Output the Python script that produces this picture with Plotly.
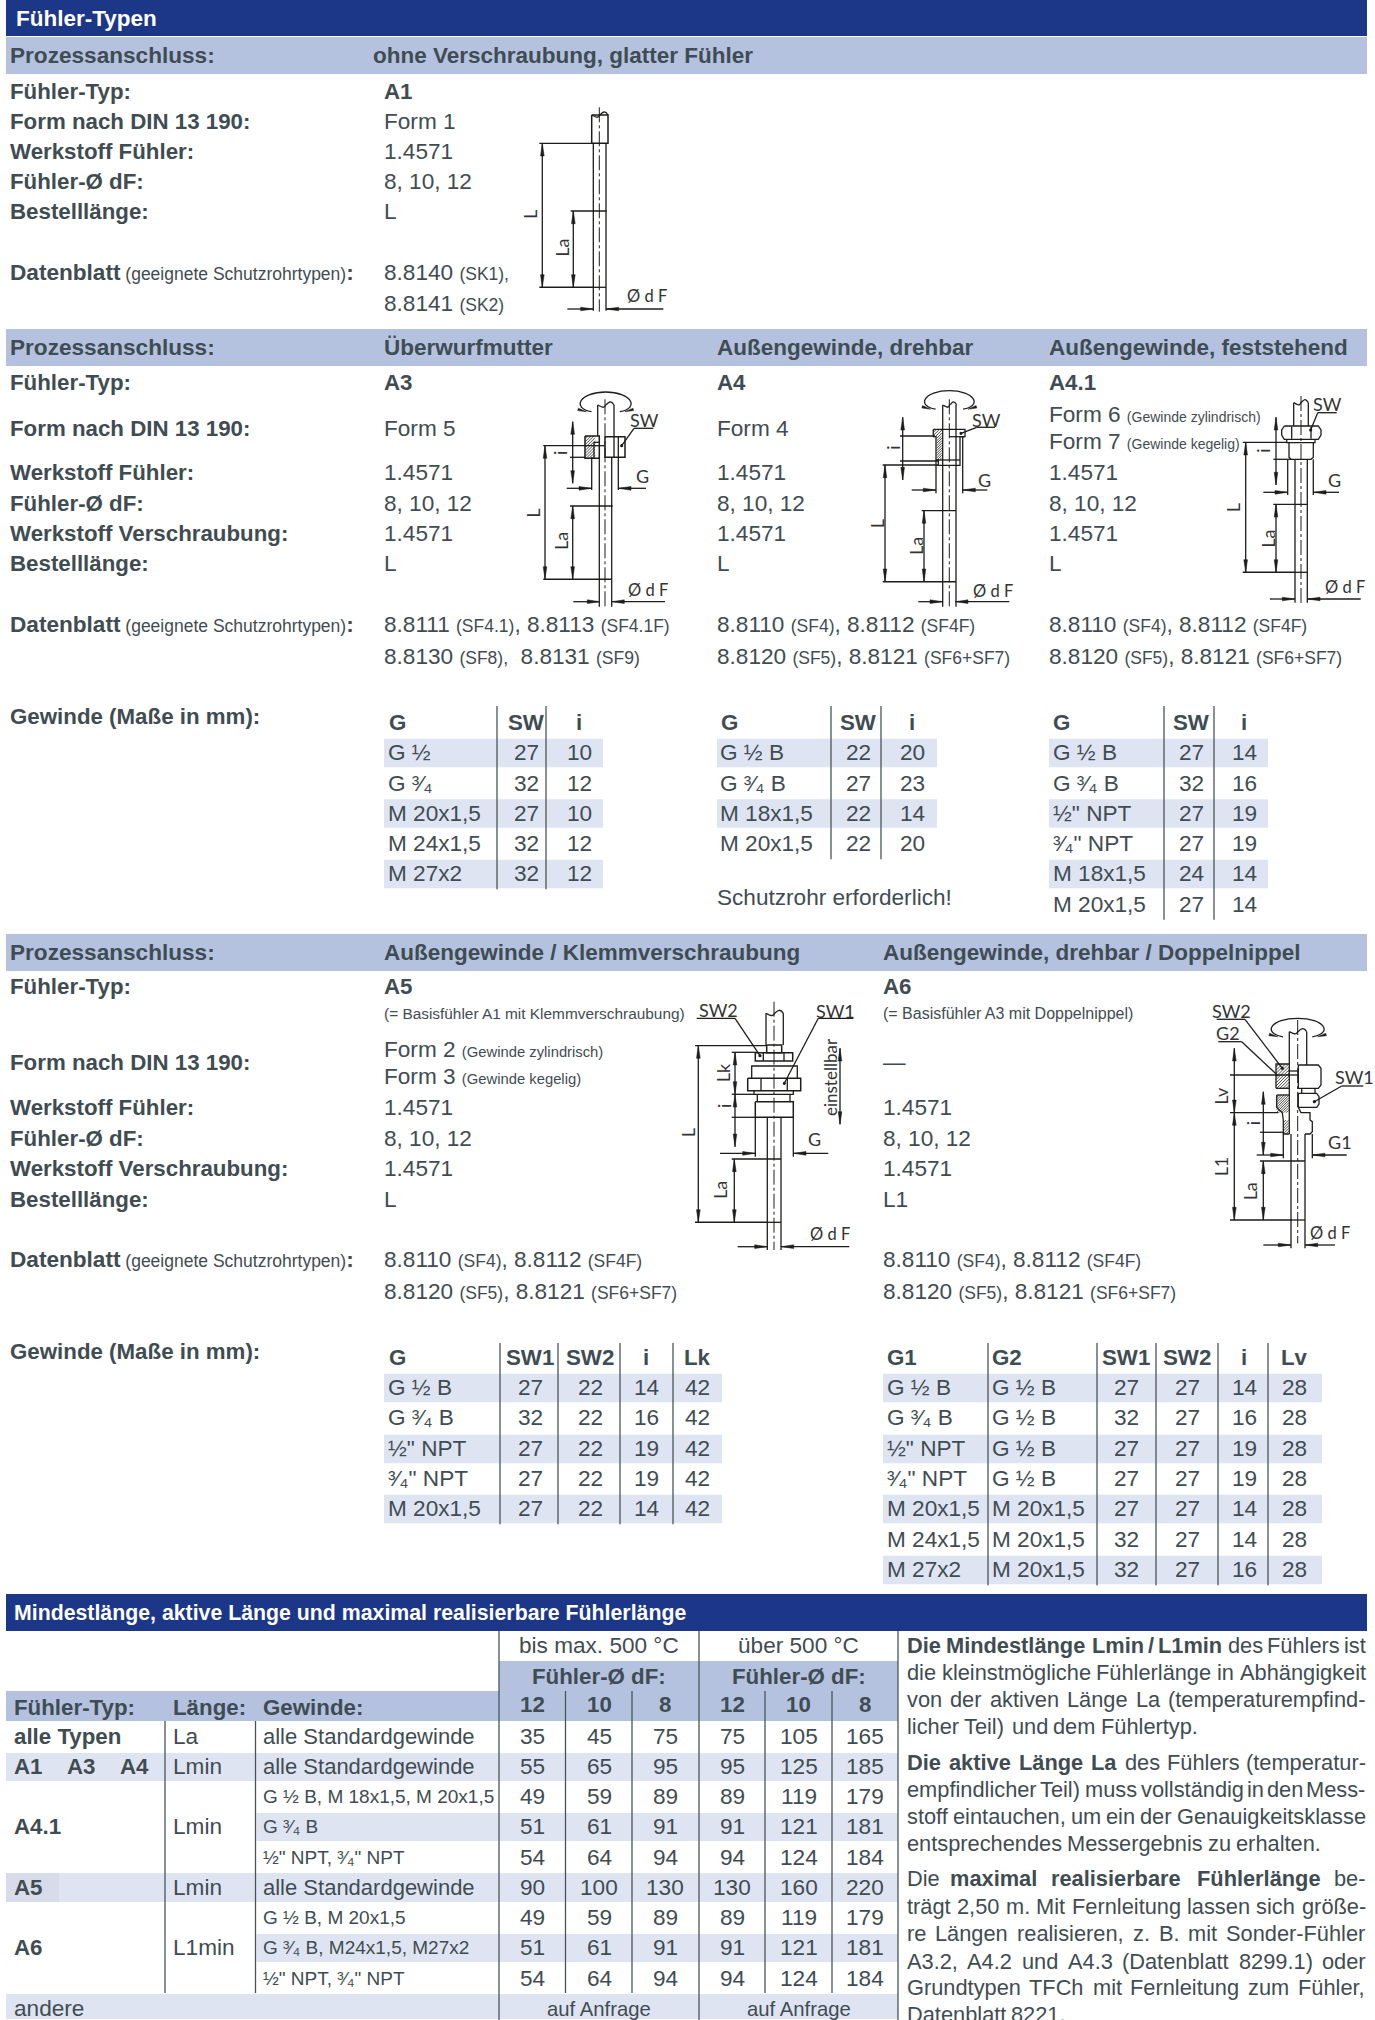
import plotly.graph_objects as go

# ---------- text content ----------
TITLE_TOP = "Fühler-Typen"
TITLE_BOTTOM = "Mindestlänge, aktive Länge und maximal realisierbare Fühlerlänge"
PROC = "Prozessanschluss:"
LABELS_1 = ["Fühler-Typ:", "Form nach DIN 13 190:", "Werkstoff Fühler:", "Fühler-Ø dF:", "Bestelllänge:"]
VALUES_A1 = ["A1", "Form 1", "1.4571", "8, 10, 12", "L"]
LABELS_2 = ["Fühler-Typ:", "Form nach DIN 13 190:", "Werkstoff Fühler:", "Fühler-Ø dF:", "Werkstoff Verschraubung:", "Bestelllänge:"]
VALUES_A3 = ["A3", "Form 5", "1.4571", "8, 10, 12", "1.4571", "L"]
VALUES_A4 = ["A4", "Form 4", "1.4571", "8, 10, 12", "1.4571", "L"]
VALUES_A41 = ["A4.1", None, "1.4571", "8, 10, 12", "1.4571", "L"]
VALUES_A5 = ["A5", None, "1.4571", "8, 10, 12", "1.4571", "L"]
VALUES_A6 = ["A6", "—", "1.4571", "8, 10, 12", "1.4571", "L1"]
DB = "Datenblatt"
DB_NOTE = " (geeignete Schutzrohrtypen)"
GEWINDE = "Gewinde (Maße in mm):"

H = ["G", "SW", "i"]
A3_G = ["G ½", "G ³⁄₄", "M 20x1,5", "M 24x1,5", "M 27x2"]
A3_SW = [27, 32, 27, 32, 32]
A3_I = [10, 12, 10, 12, 12]
A4_G = ["G ½ B", "G ³⁄₄ B", "M 18x1,5", "M 20x1,5"]
A4_SW = [22, 27, 22, 22]
A4_I = [20, 23, 14, 20]
A41_G = ["G ½ B", "G ³⁄₄ B", "½\" NPT", "³⁄₄\" NPT", "M 18x1,5", "M 20x1,5"]
A41_SW = [27, 32, 27, 27, 24, 27]
A41_I = [14, 16, 19, 19, 14, 14]
H5 = ["G", "SW1", "SW2", "i", "Lk"]
A5_G = ["G ½ B", "G ³⁄₄ B", "½\" NPT", "³⁄₄\" NPT", "M 20x1,5"]
A5_SW1 = [27, 32, 27, 27, 27]
A5_SW2 = [22, 22, 22, 22, 22]
A5_I = [14, 16, 19, 19, 14]
A5_LK = [42, 42, 42, 42, 42]
H6 = ["G1", "G2", "SW1", "SW2", "i", "Lv"]
A6_G1 = ["G ½ B", "G ³⁄₄ B", "½\" NPT", "³⁄₄\" NPT", "M 20x1,5", "M 24x1,5", "M 27x2"]
A6_G2 = ["G ½ B", "G ½ B", "G ½ B", "G ½ B", "M 20x1,5", "M 20x1,5", "M 20x1,5"]
A6_SW1 = [27, 32, 27, 27, 27, 32, 32]
A6_SW2 = [27, 27, 27, 27, 27, 27, 27]
A6_I = [14, 16, 19, 19, 14, 14, 16]
A6_LV = [28, 28, 28, 28, 28, 28, 28]

B_TYPE = ["alle Typen", None, None, "A4.1", None, "A5", None, "A6", None]
B_LEN = ["La", "Lmin", None, "Lmin", None, "Lmin", None, "L1min", None]
B_GEW = ["alle Standardgewinde", "alle Standardgewinde", "G ½ B, M 18x1,5, M 20x1,5", "G ³⁄₄ B",
         "½\" NPT, ³⁄₄\" NPT", "alle Standardgewinde", "G ½ B, M 20x1,5", "G ³⁄₄ B, M24x1,5, M27x2", "½\" NPT, ³⁄₄\" NPT"]
BIS_12 = [35, 55, 49, 51, 54, 90, 49, 51, 54]
BIS_10 = [45, 65, 59, 61, 64, 100, 59, 61, 64]
BIS_8 = [75, 95, 89, 91, 94, 130, 89, 91, 94]
UEB_12 = [75, 95, 89, 91, 94, 130, 89, 91, 94]
UEB_10 = [105, 125, 119, 121, 124, 160, 119, 121, 124]
UEB_8 = [165, 185, 179, 181, 184, 220, 179, 181, 184]
DIAMS = [12, 10, 8, 12, 10, 8]

# '*' marks a bold word, final flag = justified line
PARA = [
    ("*Die *Mindestlänge *Lmin */ *L1min des Fühlers ist", True),
    ("die kleinstmögliche Fühlerlänge in Abhängigkeit", True),
    ("von der aktiven Länge La (temperaturempfind-", True),
    ("licher Teil) und dem Fühlertyp.", False),
    ("*Die *aktive *Länge *La des Fühlers (temperatur-", True),
    ("empfindlicher Teil) muss vollständig in den Mess-", True),
    ("stoff eintauchen, um ein der Genauigkeitsklasse", True),
    ("entsprechendes Messergebnis zu erhalten.", False),
    ("Die *maximal *realisierbare *Fühlerlänge be-", True),
    ("trägt 2,50 m. Mit Fernleitung lassen sich größe-", True),
    ("re Längen realisieren, z. B. mit Sonder-Fühler", True),
    ("A3.2, A4.2 und A4.3 (Datenblatt 8299.1) oder", True),
    ("Grundtypen TFCh mit Fernleitung zum Fühler,", True),
    ("Datenblatt 8221.", False),
]

# ---------- style ----------
FONT = "Liberation Sans, Arial, sans-serif"
NARROW = "Lato, Liberation Sans, sans-serif"
TXT = "#3f4c52"
NAVY = "#1c3688"
BAND = "#b4c2e0"
LIGHT = "#dfe4f2"
RULE = "#4a5558"
INK = "#1d1d1b"
W, HT = 1375, 2020
XL, XR = 6, 1367

shapes, annots = [], []


def rect(x0, y0, x1, y1, fill):
    shapes.append(dict(type="rect", xref="x", yref="y", x0=x0, y0=y0, x1=x1, y1=y1,
                       fillcolor=fill, line=dict(width=0), layer="below"))


def vline(x, y0, y1, color=RULE, w=1.3):
    shapes.append(dict(type="line", xref="x", yref="y", x0=x, x1=x, y0=y0, y1=y1,
                       line=dict(color=color, width=w)))


def T(x, y, s, size=None, color=TXT, bold=False, anchor="left", angle=0, font=FONT):
    if size is None:
        size = 22.3 if bold else 22.6
    txt = f"<b>{s}</b>" if bold else str(s)
    dx = 1.2 if anchor == "left" else 0
    annots.append(dict(x=x - dx, y=y - 0.3, xref="x", yref="y", text=txt, showarrow=False, xanchor=anchor,
                       yanchor="middle", textangle=angle, borderpad=0,
                       font=dict(family=font, size=size, color=color)))


def sm(s, size=17.5):
    return f'<span style="font-size:{size}px">{s}</span>'


class D:
    """Line drawing in zoom coordinates (three units per page pixel)."""

    def __init__(self, x0, y0):
        self.x0, self.y0 = x0, y0

    def p(self, x, y):
        return self.x0 + x / 3, self.y0 + y / 3

    def path(self, d, w=1.3, dash=None, fill=None, color=INK):
        line = dict(color=color, width=w)
        if dash:
            line["dash"] = dash
        s = dict(type="path", xref="x", yref="y", path=d, line=line)
        if fill:
            s["fillcolor"] = fill
        shapes.append(s)

    def line(self, *pts, w=1.3, dash=None):
        d = ""
        for i, (x, y) in enumerate(pts):
            px, py = self.p(x, y)
            d += f"{'M' if i == 0 else 'L'} {px:.1f} {py:.1f} "
        self.path(d, w, dash)

    def center(self, x, y0, y1):
        self.line((x, y0), (x, y1), w=1, dash="15px,3px,3px,3px")

    def box(self, x0, y0, x1, y1, w=1.5):
        self.line((x0, y0), (x1, y0), (x1, y1), (x0, y1), (x0, y0), w=w)

    def head(self, x, y, dx, dy, ln=38, hw=5.5):
        ax, ay = self.p(x, y)
        bx, by = self.p(x + dx * ln, y + dy * ln)
        ox, oy = -dy * hw / 3, dx * hw / 3
        self.path(f"M {ax:.1f} {ay:.1f} L {bx + ox:.1f} {by + oy:.1f} L {bx - ox:.1f} {by - oy:.1f} Z",
                  w=0.5, fill=INK)

    def vdim(self, x, y0, y1):
        self.line((x, y0), (x, y1))
        self.head(x, y0, 0, 1)
        self.head(x, y1, 0, -1)

    def hout(self, xa, xb, y, xl, xr):
        self.line((xl, y), (xa, y))
        self.line((xb, y), (xr, y))
        self.head(xa, y, -1, 0)
        self.head(xb, y, 1, 0)

    def dot(self, x, y):
        px, py = self.p(x, y)
        shapes.append(dict(type="circle", xref="x", yref="y", x0=px - 1.6, x1=px + 1.6, y0=py - 1.6,
                           y1=py + 1.6, fillcolor=INK, line=dict(width=0)))

    def wavy(self, xl, xr, y):
        a, b = self.p(xl, y), self.p(xr, y)
        mx = (a[0] + b[0]) / 2
        self.path(f"M {a[0]:.1f} {a[1]:.1f} C {a[0] + 6:.1f} {a[1] + 3:.1f}, {mx - 2:.1f} {a[1] + 3:.1f}, {mx:.1f} {a[1]:.1f} "
                  f"C {mx + 3:.1f} {a[1] - 3:.1f}, {b[0] - 3:.1f} {a[1] - 5:.1f}, {b[0]:.1f} {b[1]:.1f}", w=1.3)

    def swirl(self, cx, cy, rx, ry):
        c = self.p(cx, cy)
        r, q = rx / 3, ry / 3
        self.path(f"M {c[0] - r * .55:.1f} {c[1] + q * .85:.1f} C {c[0] - r * 1.35:.1f} {c[1] + q * .5:.1f}, "
                  f"{c[0] - r:.1f} {c[1] - q:.1f}, {c[0]:.1f} {c[1] - q:.1f} "
                  f"C {c[0] + r:.1f} {c[1] - q:.1f}, {c[0] + r * 1.35:.1f} {c[1] + q * .5:.1f}, "
                  f"{c[0] + r * .55:.1f} {c[1] + q * .85:.1f}", w=1.3)
        self.head(cx - rx * .75, cy + ry * .85, -0.9, -0.25, ln=28, hw=4)
        self.head(cx + rx * .75, cy + ry * .85, 0.9, -0.25, ln=28, hw=4)

    def hatch(self, x0, y0, x1, y1, n=6):
        h = y1 - y0
        step = (x1 - x0 + h) / n
        for i in range(1, n):
            c = x0 + i * step
            ax2, ay2 = c - h, y1
            bx2, by2 = c, y0
            if ax2 < x0:
                ay2 = y1 - (x0 - ax2)
                ax2 = x0
            if bx2 > x1:
                by2 = y0 + (bx2 - x1)
                bx2 = x1
            self.line((ax2, ay2), (bx2, by2), w=0.8)

    def t(self, x, y, s, size=18, angle=0, anchor="center"):
        px, py = self.p(x, y)
        T(px, py, s, size=size, color="#333", angle=angle, anchor=anchor, font=NARROW)

    def df(self, x, y):
        self.t(x, y, "Ø d F", size=16.5)


# ---------- Helvetica metrics for the justified paragraph ----------
REG = {' ': .278, ',': .278, '.': .278, '-': .333, '/': .278, '(': .333, ')': .333, ':': .278, 'f': .278, 't': .278,
       'i': .222, 'j': .222, 'l': .222, 'r': .333, 'c': .5, 'k': .5, 's': .5, 'v': .5, 'x': .5, 'y': .5, 'z': .5,
       'm': .833, 'w': .722, 'I': .278, 'J': .5, 'F': .611, 'T': .611, 'Z': .611, 'L': .556, 'A': .667, 'B': .667,
       'E': .667, 'K': .667, 'P': .667, 'S': .667, 'V': .667, 'X': .667, 'Y': .667, 'C': .722, 'D': .722, 'H': .722,
       'N': .722, 'R': .722, 'U': .722, 'G': .778, 'O': .778, 'Q': .778, 'M': .833, 'W': .944, 'ß': .611, 'ü': .556,
       'ö': .556, 'ä': .556}
BLD = dict(REG, **{'i': .278, 'j': .278, 'l': .278, 'r': .389, 'c': .556, 'k': .556, 's': .556, 'v': .556, 'x': .556,
                   'y': .556, 'z': .5, 't': .333, 'f': .333, 'm': .889, 'w': .778, 'F': .611, 'L': .611, '/': .278,
                   'ü': .611, 'ä': .556})


def wid(word, bold, size):
    table = BLD if bold else REG
    dflt = .611 if bold else .556
    return sum(table.get(c, dflt) for c in word) * size


def para(x0, x1, ys, lines, size=22):
    for (line, just), y in zip(lines, ys):
        words = line.split(" ")
        items = [(w.lstrip("*"), w.startswith("*")) for w in words]
        ws = [wid(w, b, size) for w, b in items]
        gap = (x1 - x0 - sum(ws)) / (len(ws) - 1) if just and len(ws) > 1 else .24 * size
        x = x0
        for (w, b), wd in zip(items, ws):
            T(x, y, w, size=size, bold=b)
            x += wd + gap


# ---------- bands ----------
rect(XL, 0, XR, 36, NAVY)
T(16, 19, TITLE_TOP, size=22.5, color="white", bold=True)
for y0, y1, yc in [(37, 74, 56), (329, 366, 348), (934, 971, 953)]:
    rect(XL, y0, XR, y1, BAND)
    T(10, yc, PROC, bold=True, size=22.6)

T(373, 56, "ohne Verschraubung, glatter Fühler", bold=True, size=22.5)
T(384, 348, "Überwurfmutter", bold=True, size=22.5)
T(717, 348, "Außengewinde, drehbar", bold=True, size=22.5)
T(1049, 348, "Außengewinde, feststehend", bold=True, size=22.5)
T(384, 953, "Außengewinde / Klemmverschraubung", bold=True, size=22.5)
T(883, 953, "Außengewinde, drehbar / Doppelnippel", bold=True, size=22.5)


def col(x, ys, vals, first_bold=True):
    for i, (y, v) in enumerate(zip(ys, vals)):
        if v is not None:
            T(x, y, v, bold=(i == 0 and first_bold))


def labels(ys, vals):
    for y, v in zip(ys, vals):
        T(10, y, v, bold=True)


def db_label(y):
    T(10, y, f"<b>{DB}</b>{sm(DB_NOTE)}<b>:</b>")


# section 1
Y1 = [92, 122, 152, 182, 212]
labels(Y1, LABELS_1)
col(384, Y1, VALUES_A1)
db_label(273)
T(384, 273, "8.8140 " + sm("(SK1),"))
T(384, 304, "8.8141 " + sm("(SK2)"))

# section 2
Y2 = [383, 429, 473, 504, 534, 564]
labels(Y2, LABELS_2)
col(384, Y2, VALUES_A3)
col(717, Y2, VALUES_A4)
col(1049, Y2, VALUES_A41)
T(1049, 415, "Form 6 " + sm("(Gewinde zylindrisch)", 14))
T(1049, 442, "Form 7 " + sm("(Gewinde kegelig)", 14))
db_label(625)
T(384, 625, "8.8111 " + sm("(SF4.1)") + ", 8.8113 " + sm("(SF4.1F)"))
T(384, 657, "8.8130 " + sm("(SF8),") + "\u00a0\u00a08.8131 " + sm("(SF9)"))
for x in (717, 1049):
    T(x, 625, "8.8110 " + sm("(SF4)") + ", 8.8112 " + sm("(SF4F)"))
    T(x, 657, "8.8120 " + sm("(SF5)") + ", 8.8121 " + sm("(SF6+SF7)"))
T(10, 717, GEWINDE, bold=True)


def table(x0, x1, seps, header, hdr_xs, columns, col_xs, left_cols, y_head, y_rows, y_top):
    rh = 30.3
    for i, y in enumerate(y_rows):
        if i % 2 == 0:
            rect(x0, y - rh / 2 + 1, x1, y + rh / 2 - 1, LIGHT)
    for s in seps:
        vline(s, y_top, y_rows[-1] + rh / 2)
    for h, x, c in zip(header, hdr_xs, range(len(header))):
        T(x, y_head, h, bold=True, anchor="left" if c in left_cols else "center")
    for c, (vals, x) in enumerate(zip(columns, col_xs)):
        for v, y in zip(vals, y_rows):
            T(x, y, v, anchor="left" if c in left_cols else "center")


Y_T2 = [753, 783.5, 813.5, 844, 874, 904.5]
table(384, 603, [497, 546], H, [389, 526, 579], [A3_G, A3_SW, A3_I], [388, 526, 579], {0}, 723, Y_T2[:5], 706)
table(717, 937, [831, 881], H, [721, 858, 912], [A4_G, A4_SW, A4_I], [720, 858, 912], {0}, 723, Y_T2[:4], 706)
table(1049, 1268, [1164, 1214], H, [1053, 1191, 1244], [A41_G, A41_SW, A41_I], [1053, 1191, 1244], {0}, 723, Y_T2, 706)
T(717, 898, "Schutzrohr erforderlich!")

# section 3
Y3 = [987, 1063, 1108, 1139, 1169, 1200]
labels(Y3, LABELS_2)
col(384, Y3, VALUES_A5)
col(883, Y3, VALUES_A6)
T(384, 1014, "(= Basisfühler A1 mit Klemmverschraubung)", size=15.4)
T(883, 1014, "(= Basisfühler A3 mit Doppelnippel)", size=16)
T(384, 1050, "Form 2 " + sm("(Gewinde zylindrisch)", 14.8))
T(384, 1077, "Form 3 " + sm("(Gewinde kegelig)", 14.8))
db_label(1260)
for x in (384, 883):
    T(x, 1260, "8.8110 " + sm("(SF4)") + ", 8.8112 " + sm("(SF4F)"))
    T(x, 1292, "8.8120 " + sm("(SF5)") + ", 8.8121 " + sm("(SF6+SF7)"))
T(10, 1352, GEWINDE, bold=True)
Y_T3 = [1388, 1418, 1449, 1479, 1509, 1540, 1570]
table(384, 722, [500, 558, 620, 673], H5, [389, 530, 590, 646, 697],
      [A5_G, A5_SW1, A5_SW2, A5_I, A5_LK], [388, 530, 590, 646, 697], {0}, 1358, Y_T3[:5], 1343)
table(883, 1322, [988, 1097, 1156, 1218, 1268], H6, [887, 992, 1126, 1187, 1244, 1294],
      [A6_G1, A6_G2, A6_SW1, A6_SW2, A6_I, A6_LV], [887, 992, 1126, 1187, 1244, 1294], {0, 1}, 1358, Y_T3, 1343)

# bottom table
rect(XL, 1594, XR, 1631, NAVY)
T(14, 1613, TITLE_BOTTOM, size=21.3, color="white", bold=True)
rect(499, 1661, 898, 1721, BAND)
rect(XL, 1691, 499, 1721, BAND)
Y_B = [1737, 1767, 1797, 1827, 1858, 1888, 1918, 1948, 1979]
YB_ED = [1721, 1752, 1782, 1812, 1842, 1872, 1903, 1933, 1963, 1993]
for i, left in ((1, XL), (3, 256.5), (5, XL), (7, 256.5), (9, XL)):
    y1 = YB_ED[i + 1] if i < 9 else 2020
    rect(left, YB_ED[i] + 1, 898, y1 - 1, LIGHT)
rect(XL, 1873, 59, 1902, "#d8dbe9")
for x in (165, 255.5):
    vline(x, 1721, 1993)
for x in (499, 699, 898):
    vline(x, 1631, 2020)
for x in (565.5, 632, 765, 832):
    vline(x, 1691, 1993)
T(599, 1646, "bis max. 500 °C", anchor="center")
T(798.5, 1646, "über 500 °C", anchor="center")
T(599, 1677, "Fühler-Ø dF:", bold=True, anchor="center")
T(798.5, 1677, "Fühler-Ø dF:", bold=True, anchor="center")
T(14, 1708, "Fühler-Typ:", bold=True)
T(173, 1708, "Länge:", bold=True)
T(263, 1708, "Gewinde:", bold=True)
COLX = [532, 599, 665, 732, 798.5, 865]
for x, d in zip(COLX, DIAMS):
    T(x, 1705, d, bold=True, anchor="center")
for x, vals in zip(COLX, [BIS_12, BIS_10, BIS_8, UEB_12, UEB_10, UEB_8]):
    for y, v in zip(Y_B, vals):
        T(x, y, v, anchor="center")
TYPE_Y = {0: 1737, 3: 1827, 5: 1888, 7: 1948}
for i, y in TYPE_Y.items():
    T(14, y, B_TYPE[i], bold=True)
for x, s in zip((14, 67, 120), ("A1", "A3", "A4")):
    T(x, 1767, s, bold=True)
for i, y in zip((0, 1, 3, 5, 7), (1737, 1767, 1827, 1888, 1948)):
    T(173, y, B_LEN[i])
for y, g, c in zip(Y_B, B_GEW, (22, 22, 19, 19, 19, 22, 19, 19, 19)):
    T(263, y, g, size=c)
T(14, 2009, "andere")
T(599, 2009, "auf Anfrage", anchor="center", size=20.3)
T(798.5, 2009, "auf Anfrage", anchor="center", size=20.3)

# paragraph
PY = [1646, 1673, 1700, 1727, 1763, 1790, 1817, 1844, 1879, 1907, 1934, 1962, 1988, 2015]
para(907, 1366, PY, PARA, size=21.8)

# ---------- drawings ----------
d = D(510, 100)  # A1
d.center(268, 22, 635)
d.wavy(245, 294, 45)
d.box(245, 45, 294, 130)
d.line((250, 130), (250, 632))
d.line((288, 130), (288, 632))
d.line((250, 562), (288, 562))
d.line((88, 130), (250, 130))
d.line((88, 562), (250, 562), w=1.5)
d.vdim(97, 130, 562)
d.line((182, 333), (290, 333))
d.vdim(190, 333, 562)
d.hout(250, 288, 627, 172, 460)
d.t(58, 345, "L", angle=-90)
d.t(155, 445, "La", angle=-90)
d.df(410, 590)

d = D(510, 380)  # A3
d.center(285, 58, 680)
d.swirl(287, 68, 77, 32)
d.wavy(263, 312, 75)
d.line((263, 75), (263, 168))
d.line((312, 75), (312, 170))
d.line((268, 232), (268, 680))
d.line((305, 232), (305, 680))
d.box(225, 168, 268, 235)
d.hatch(225, 168, 255, 235, 11)
d.line((252, 187), (268, 187))
d.line((252, 197), (285, 197))
d.line((252, 187), (252, 235))
d.box(285, 170, 345, 232)
d.line((312, 170), (312, 232))
d.line((325, 170), (325, 232))
d.vdim(188, 125, 310)
d.line((100, 197), (252, 197))
d.line((180, 232), (225, 232))
d.vdim(105, 197, 598)
d.line((100, 598), (305, 598), w=1.5)
d.vdim(188, 378, 598)
d.line((180, 378), (308, 378))
d.line((245, 232), (245, 330))
d.line((325, 232), (325, 330))
d.hout(245, 325, 325, 170, 408)
d.t(397, 288, "G")
d.t(402, 122, "SW")
d.line((372, 145), (430, 145))
d.line((372, 145), (335, 197))
d.dot(335, 197)
d.t(68, 400, "L", angle=-90)
d.t(155, 485, "La", angle=-90)
d.t(150, 220, "i", angle=-90)
d.df(415, 632)
d.hout(270, 305, 665, 190, 465)

d = D(850, 380)  # A4
d.center(298, 58, 680)
d.swirl(298, 62, 75, 30)
d.wavy(278, 320, 75)
d.line((278, 75), (278, 680))
d.line((318, 75), (318, 680))
d.line((250, 148), (345, 148), (345, 170), (330, 170), (330, 240), (330, 256), (265, 256), (265, 240), (258, 240), (258, 170), (250, 170), (250, 148))
d.hatch(250, 148, 276, 168, 5)
d.hatch(260, 168, 276, 240, 12)
d.line((258, 240), (330, 240))
d.line((298, 170), (345, 170))
d.vdim(158, 112, 300)
d.line((150, 168), (255, 168))
d.line((150, 243), (265, 243))
d.vdim(105, 255, 605)
d.line((98, 255), (265, 255))
d.line((98, 605), (318, 605), w=1.5)
d.vdim(222, 392, 605)
d.line((215, 392), (318, 392))
d.line((258, 240), (258, 340))
d.line((338, 170), (338, 340))
d.hout(258, 338, 330, 185, 412)
d.t(402, 302, "G")
d.t(408, 120, "SW")
d.line((380, 142), (435, 142))
d.line((380, 142), (333, 160))
d.dot(333, 160)
d.t(80, 432, "L", angle=-90)
d.t(128, 205, "i", angle=-90)
d.t(200, 500, "La", angle=-90)
d.df(428, 635)
d.hout(278, 316, 665, 205, 478)

d = D(1195, 380)  # A4.1
d.center(318, 48, 670)
d.wavy(296, 340, 68)
d.line((296, 68), (296, 138))
d.line((340, 68), (340, 138))
d.line((268, 138), (370, 138), (378, 150), (378, 165), (370, 178), (268, 178), (260, 165), (260, 150), (268, 138))
d.line((290, 140), (290, 176))
d.line((348, 140), (348, 176))
d.line((275, 178), (275, 188), (360, 188), (360, 178))
d.line((282, 188), (282, 232), (288, 238), (348, 238), (355, 232), (355, 188))
d.line((300, 238), (300, 668))
d.line((337, 238), (337, 668))
d.line((300, 577), (337, 577))
d.vdim(243, 112, 315)
d.line((143, 187), (275, 187))
d.line((235, 238), (288, 238))
d.vdim(152, 187, 577)
d.line((143, 577), (300, 577), w=1.5)
d.vdim(243, 373, 577)
d.line((235, 373), (337, 373))
d.line((278, 238), (278, 345))
d.line((355, 238), (355, 345))
d.hout(278, 355, 337, 205, 432)
d.t(418, 300, "G")
d.t(397, 72, "SW")
d.line((368, 98), (425, 98))
d.line((368, 98), (347, 150))
d.dot(347, 150)
d.t(115, 385, "L", angle=-90)
d.t(205, 212, "i", angle=-90)
d.t(218, 478, "La", angle=-90)
d.df(450, 622)
d.hout(300, 337, 657, 225, 497)

d = D(680, 990)  # A5
d.center(282, 35, 780)
d.wavy(258, 310, 70)
d.line((258, 70), (258, 165))
d.line((310, 70), (310, 165))
d.box(260, 165, 305, 188)
d.box(226, 188, 338, 213)
d.line((250, 188), (250, 213))
d.line((312, 188), (312, 213))
d.line((215, 265), (215, 228), (352, 228), (352, 265))
d.box(203, 265, 362, 302)
d.line((243, 265), (243, 302))
d.line((322, 265), (322, 302))
d.line((222, 302), (222, 313), (340, 313), (340, 302))
d.line((232, 313), (232, 335))
d.line((330, 313), (330, 335))
d.box(226, 335, 340, 382)
d.line((262, 382), (262, 780))
d.line((303, 382), (303, 780))
d.line((262, 697), (303, 697))
d.vdim(55, 167, 697)
d.line((45, 167), (258, 167))
d.line((45, 697), (262, 697), w=1.5)
d.vdim(165, 187, 313)
d.line((155, 187), (230, 187))
d.line((155, 313), (222, 313))
d.vdim(165, 313, 470)
d.line((155, 382), (228, 382))
d.line((226, 382), (226, 500))
d.line((340, 382), (340, 500))
d.hout(226, 340, 490, 120, 445)
d.vdim(163, 507, 697)
d.line((155, 507), (303, 507))
d.t(450, 262, "einstellbar", angle=-90, size=17)
d.vdim(480, 175, 403)
d.t(115, 62, "SW2")
d.line((50, 85), (165, 85))
d.line((165, 85), (240, 197))
d.dot(240, 197)
d.t(465, 64, "SW1")
d.line((415, 85), (520, 85))
d.line((415, 85), (313, 280))
d.dot(313, 280)
d.t(402, 448, "G")
d.t(25, 430, "L", angle=-90)
d.t(130, 250, "Lk", angle=-90)
d.t(130, 348, "i", angle=-90)
d.t(122, 602, "La", angle=-90)
d.df(450, 732)
d.hout(262, 303, 770, 173, 508)

d = D(1195, 990)  # A6
d.center(308, 90, 760)
d.swirl(308, 115, 80, 30)
d.wavy(283, 335, 125)
d.line((283, 125), (283, 432))
d.line((335, 125), (335, 225))
d.line((288, 432), (288, 775))
d.line((330, 432), (330, 775))
d.line((288, 690), (330, 690))
d.line((243, 295), (243, 222), (283, 222))
d.line((243, 295), (283, 295))
d.hatch(243, 222, 283, 295, 12)
d.line((280, 243), (310, 243))
d.line((280, 255), (310, 255))
d.line((310, 225), (370, 225), (378, 235), (378, 285), (370, 295), (310, 295), (310, 225))
d.line((310, 310), (365, 310), (372, 320), (372, 342), (365, 352), (310, 352), (310, 310))
d.line((320, 295), (320, 310))
d.line((360, 295), (360, 310))
d.line((245, 315), (283, 315))
d.line((245, 315), (245, 352), (262, 368), (265, 390), (265, 432), (283, 432))
d.hatch(245, 315, 281, 368, 12)
d.hatch(265, 390, 281, 432, 7)
d.line((310, 352), (318, 368), (345, 368), (345, 390), (352, 395), (352, 425), (345, 432), (330, 432))
d.vdim(118, 175, 368)
d.line((105, 255), (283, 255))
d.line((105, 368), (250, 368))
d.vdim(118, 368, 690)
d.line((105, 690), (290, 690), w=1.5)
d.vdim(205, 305, 495)
d.line((195, 427), (265, 427))
d.vdim(205, 513, 690)
d.line((195, 513), (330, 513))
d.line((265, 432), (265, 505))
d.line((352, 432), (352, 505))
d.hout(265, 352, 495, 185, 455)
d.t(108, 65, "SW2")
d.line((65, 88), (150, 88))
d.line((150, 88), (262, 235))
d.dot(262, 235)
d.t(100, 130, "G2")
d.line((70, 155), (140, 155))
d.line((140, 155), (250, 258))
d.t(478, 262, "SW1")
d.line((440, 288), (505, 288))
d.line((440, 288), (358, 335))
d.dot(358, 335)
d.t(78, 318, "Lv", angle=-90)
d.t(78, 530, "L1", angle=-90)
d.t(175, 400, "i", angle=-90)
d.t(165, 605, "La", angle=-90)
d.t(435, 458, "G1")
d.df(405, 730)
d.hout(288, 330, 765, 205, 420)

fig = go.Figure()
fig.update_layout(
    width=W, height=HT, margin=dict(l=0, r=0, t=0, b=0), paper_bgcolor="white", plot_bgcolor="white",
    showlegend=False, shapes=shapes, annotations=annots,
    xaxis=dict(range=[0, W], visible=False, fixedrange=True),
    yaxis=dict(range=[HT, 0], visible=False, fixedrange=True),
)
fig.write_html("out.html", config={"displayModeBar": False},
               post_script="document.body.style.margin='0';document.documentElement.style.overflow='hidden';")
